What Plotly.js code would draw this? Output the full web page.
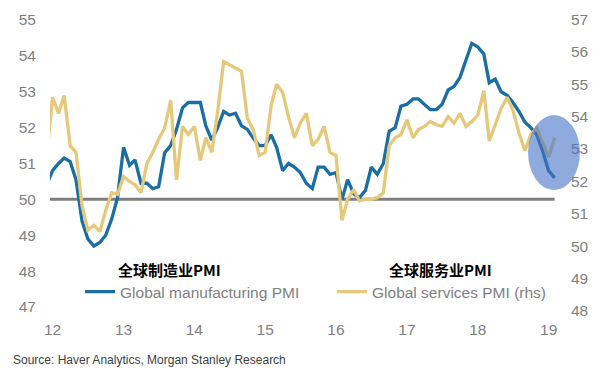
<!DOCTYPE html>
<html><head><meta charset="utf-8">
<script src="https://cdn.plot.ly/plotly-3.0.1.min.js"></script>
<style>html,body{margin:0;padding:0;background:#fff}#chart{width:602px;height:382px}</style>
</head><body><div id="chart"></div>
<script>
// Monthly values, Dec 2011 .. Feb 2019 (first point is clipped by the plot edge)
const manufacturingPMI = [
  50.4,
  50.8, 51.0, 51.15, 51.05, 50.55, 49.4, 48.9, 48.7, 48.8, 49.0, 49.45, 50.05,
  51.45, 50.95, 51.1, 50.45, 50.45, 50.3, 50.35, 51.3, 51.5, 51.95, 52.55, 52.7,
  52.7, 52.7, 52.05, 51.65, 52.0, 52.45, 52.35, 52.4, 52.05, 51.95, 51.7, 51.5,
  51.5, 51.8, 51.45, 50.8, 51.0, 50.9, 50.75, 50.45, 50.3, 50.9, 50.9, 50.7,
  50.75, 50.0, 50.55, 50.15, 50.05, 50.25, 50.9, 50.7, 51.0, 51.9, 52.0, 52.6,
  52.65, 52.8, 52.8, 52.65, 52.5, 52.5, 52.65, 53.05, 53.15, 53.4, 53.9, 54.35,
  54.25, 54.05, 53.25, 53.35, 53.0, 52.9, 52.7, 52.45, 52.15, 52.0, 51.8, 51.35,
  50.8, 50.6
];
const servicesPMI = [
  52.7,
  54.6, 54.1, 54.65, 53.1, 52.9, 51.25, 50.5, 50.65, 50.45, 51.1, 51.65, 51.6,
  52.15, 52.0, 51.9, 51.65, 52.55, 52.9, 53.3, 53.65, 54.5, 52.05, 53.7, 53.45,
  53.7, 52.65, 53.35, 52.9, 54.15, 55.7, 55.6, 55.5, 55.4, 53.95, 53.6, 52.8,
  52.9, 54.35, 55.0, 54.75, 54.0, 53.35, 53.8, 54.1, 53.1, 53.3, 53.7, 52.9,
  52.8, 50.8, 51.45, 51.75, 51.4, 51.45, 51.45, 51.5, 51.65, 53.1, 53.35, 53.45,
  53.9, 53.35, 53.6, 53.7, 53.85, 53.75, 53.7, 54.0, 53.8, 54.1, 53.7, 53.85,
  54.05, 54.8, 53.25, 53.75, 54.25, 54.6, 54.2, 53.5, 52.95, 53.45, 53.65, 53.2,
  52.75, 53.35
];
const yearTickVals = ['2012-01-01','2013-01-01','2014-01-01','2015-01-01','2016-01-01','2017-01-01','2018-01-01','2019-01-01'];
const yearTickText = ['12','13','14','15','16','17','18','19'];
const leftTicks = [47, 48, 49, 50, 51, 52, 53, 54, 55];
const rightTicks = [48, 49, 50, 51, 52, 53, 54, 55, 56, 57];
const seriesNames = ['Global manufacturing PMI', 'Global services PMI (rhs)'];
const chineseLabels = ['全球制造业PMI', '全球服务业PMI'];
const sourceText = 'Source: Haver Analytics, Morgan Stanley Research';
const THRESHOLD = 50;

const months = [];
for (let i = 0; i < manufacturingPMI.length; i++) {
  const d = new Date(Date.UTC(2011, 11 + i, 1));
  months.push(d.toISOString().slice(0, 10));
}
const X_RANGE = ['2011-12-19', '2019-02-08'];

const BLUE = '#1a6ea3', GOLD = '#e6c87b', GREY = '#7f7f7f';
const tickFont = {family: 'Liberation Sans, Arial, sans-serif', size: 15.5, color: GREY};

const traces = [
  {x: months, y: manufacturingPMI, name: seriesNames[0], type: 'scatter', mode: 'lines',
   line: {color: BLUE, width: 3.3}, yaxis: 'y'},
  {x: months, y: servicesPMI, name: seriesNames[1], type: 'scatter', mode: 'lines',
   line: {color: GOLD, width: 3.3}, yaxis: 'y2'}
];

const layout = {
  width: 602, height: 382,
  margin: {l: 50, r: 46, t: 10, b: 64},
  paper_bgcolor: '#fff', plot_bgcolor: 'rgba(0,0,0,0)',
  font: {family: 'Liberation Sans, Arial, sans-serif', color: GREY},
  xaxis: {type: 'date', range: X_RANGE, tickvals: yearTickVals, ticktext: yearTickText,
          showgrid: false, zeroline: false, showline: false, ticks: '', tickfont: tickFont},
  yaxis: {range: [46.693, 55.279], tickvals: leftTicks, showgrid: false, zeroline: false,
          showline: false, ticks: '', ticklabelstandoff: 13, tickfont: tickFont},
  yaxis2: {range: [47.784, 57.293], tickvals: rightTicks, overlaying: 'y', side: 'right',
           showgrid: false, zeroline: false, showline: false, ticks: '', ticklabelstandoff: 14,
           tickfont: tickFont},
  showlegend: true,
  legend: {orientation: 'h', x: 0.0593, y: 0.084, xanchor: 'left', yanchor: 'middle',
           font: {family: 'Liberation Sans, Arial, sans-serif', size: 15.5, color: GREY},
           bgcolor: 'rgba(0,0,0,0)', entrywidth: 207, itemwidth: 30},
  shapes: [
    {type: 'line', xref: 'x', yref: 'y', x0: X_RANGE[0], x1: months[months.length - 1],
     y0: THRESHOLD, y1: THRESHOLD, line: {color: GREY, width: 3}, layer: 'below'},
    {type: 'circle', xref: 'paper', yref: 'paper', x0: 0.9447, x1: 1.0474, y0: 0.4156, y1: 0.659,
     fillcolor: 'rgba(68,114,196,0.6)', line: {width: 0}, layer: 'above'}
  ],
  annotations: [
    {text: '<b>' + chineseLabels[0] + '</b>', xref: 'paper', yref: 'paper', x: 0.237, y: 0.156,
     xanchor: 'center', yanchor: 'middle',
     showarrow: false, font: {family: 'Noto Sans CJK SC, sans-serif', size: 15, color: '#000'}},
    {text: '<b>' + chineseLabels[1] + '</b>', xref: 'paper', yref: 'paper', x: 0.771, y: 0.156,
     xanchor: 'center', yanchor: 'middle',
     showarrow: false, font: {family: 'Noto Sans CJK SC, sans-serif', size: 15, color: '#000'}},
    {text: sourceText, xref: 'paper', yref: 'paper', x: -0.077, y: -0.136, xanchor: 'left', yanchor: 'middle',
     showarrow: false, font: {family: 'Liberation Sans, Arial, sans-serif', size: 12, color: '#404040'}}
  ]
};

Plotly.newPlot('chart', traces, layout, {displayModeBar: false, staticPlot: true});
</script>
</body></html>
